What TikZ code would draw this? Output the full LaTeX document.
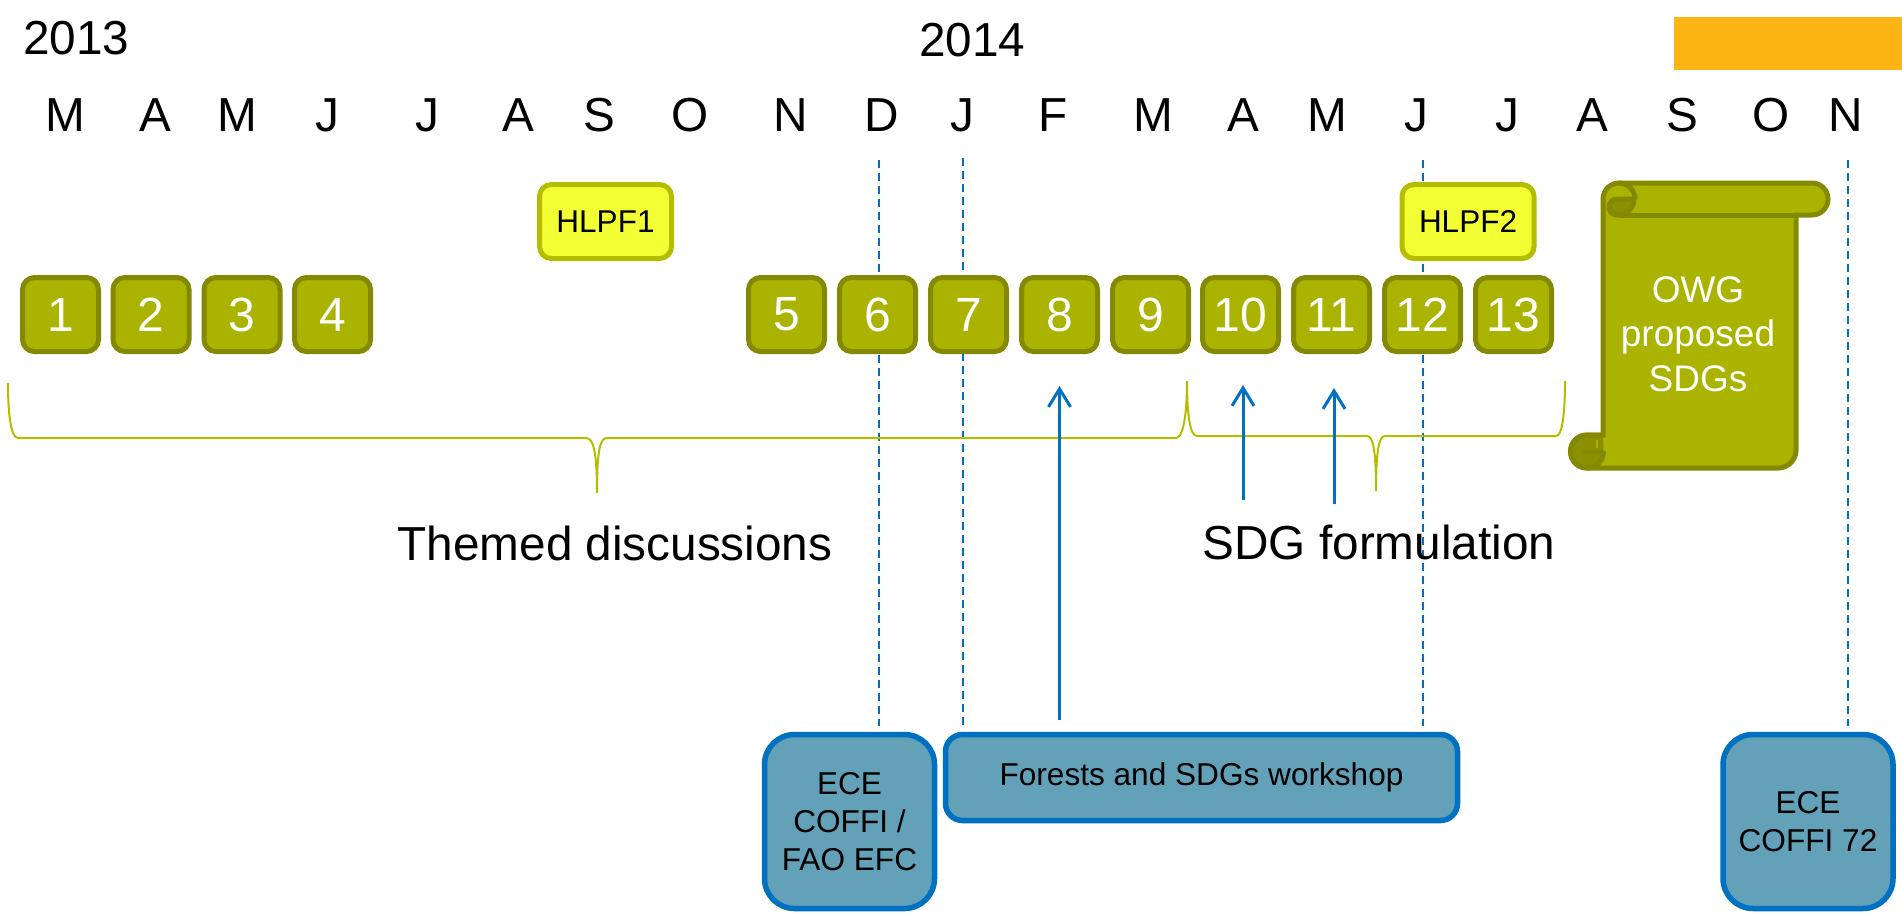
\documentclass[tikz,border=0pt]{standalone}
\usepackage{fontspec}
\setmainfont{Liberation Sans}
\usetikzlibrary{arrows.meta}

\definecolor{sessgreen}{HTML}{AAB400}
\definecolor{sessdark}{HTML}{838900}
\definecolor{curlfill}{HTML}{8A9000}
\definecolor{hlpfyellow}{HTML}{F2FF33}
\definecolor{hlpfline}{HTML}{B5BD00}
\definecolor{meetfill}{HTML}{62A1B8}
\definecolor{meetblue}{HTML}{0070C0}
\definecolor{barorange}{HTML}{FDB415}

\tikzset{
    bigtext/.style={font=\fontsize{47.7}{52}\selectfont, inner sep=0pt},
    session/.style={draw=sessdark, fill=sessgreen, line width=5pt, rounded corners=12pt, minimum width=76pt, minimum height=74pt, text=white, font=\fontsize{48}{52}\selectfont, inner sep=0pt},
    hlpf/.style={draw=hlpfline, fill=hlpfyellow, line width=5pt, rounded corners=12pt, minimum width=132pt, minimum height=74pt, font=\fontsize{31.5}{38}\selectfont, inner sep=0pt},
    meeting/.style={draw=meetblue, fill=meetfill, line width=5.5pt, align=center, font=\fontsize{31.6}{38}\selectfont, inner sep=0pt},
    brace/.style={draw=hlpfline, line width=2pt},
    datedash/.style={meetblue, line width=2pt, dash pattern=on 8pt off 5pt, shorten >=6pt},
    uparrow/.style={meetblue, line width=3pt, -{Straight Barb[length=18pt, width=22pt, line width=3pt]}}
}

\begin{document}
\begin{tikzpicture}[x=1pt, y=-1pt]
    \useasboundingbox (0,0) rectangle (1902,914);

    % Orange bar
    \fill[barorange] (1674,17) rectangle (1902,70);

    % Years
    \node[bigtext, anchor=base west] (year13) at (23,54) {2013};
    \node[bigtext, anchor=base west] (year14) at (919,56) {2014};

    % Months
    \foreach \m/\xpos [count=\i] in {M/65,A/155,M/237,J/327,J/427,A/518,S/599,O/690,N/791,D/882,J/962,F/1053,M/1153,A/1243,M/1327,J/1416,J/1507,A/1592,S/1682,O/1771,N/1846} {
        \node[bigtext, anchor=base] (month\i) at (\xpos,131) {\m};
    }

    % Meetings
    \node[meeting, rounded corners=30pt, minimum width=170pt, minimum height=174pt] (coffiefc) at (849.5,821.5) {ECE\\COFFI /\\FAO EFC};
    \node[meeting, rounded corners=17pt, minimum width=512pt, minimum height=86pt] (workshop) at (1201.5,777.5) {\raisebox{-2pt}{Forests and SDGs workshop}};
    \node[meeting, rounded corners=30pt, minimum width=170pt, minimum height=174pt] (coffi72) at (1808,821.5) {ECE\\COFFI 72};

    % Dates of the meetings, behind the sessions
    \coordinate (dashcoffi) at (879,160);
    \coordinate (dashstart) at (963,158);
    \coordinate (dashend) at (1423,160);
    \coordinate (dashlast) at (1848,160);
    \draw[datedash] (dashcoffi) -- (dashcoffi |- coffiefc.north);
    \draw[datedash] (dashstart) -- (dashstart |- workshop.north);
    \draw[datedash] (dashend) -- (dashend |- workshop.north);
    \draw[datedash] (dashlast) -- (dashlast |- coffi72.north);

    % Sessions
    \foreach \n/\xpos in {1/60.5,2/151,3/242,4/332.5,5/786.5,6/877.5,7/968.5,8/1059.5,9/1150.5,10/1240.5,11/1331.5,12/1422.5,13/1513.5} {
        \node[session] (sess\n) at (\xpos,314.5) {\n};
    }
    \node[hlpf] (hlpf1) at (605.5,221.5) {HLPF1};
    \node[hlpf] (hlpf2) at (1468,221.5) {HLPF2};

    % Braces
    \draw[brace] (8,383) .. controls (8,415) and (11,438) .. (18,438) -- (586,438)
        .. controls (593,438) and (597,450) .. (597,493)
        .. controls (597,450) and (600,438) .. (607,438) -- (1176,438)
        .. controls (1183,438) and (1187,415) .. (1187,381);
    \draw[brace] (1187,381) .. controls (1187,415) and (1190,436) .. (1197,436) -- (1367,436)
        .. controls (1373,436) and (1376,450) .. (1376,491)
        .. controls (1376,450) and (1379,436) .. (1385,436) -- (1556,436)
        .. controls (1562,436) and (1565,415) .. (1565,381);

    \node[bigtext, anchor=base] (themed) at (615,560) {Themed discussions};
    \node[bigtext, anchor=base] (formul) at (1379,559) {SDG formulation};

    % Workshop inputs
    \coordinate (from10) at (1243,500);
    \coordinate (from11) at (1334,504);
    \coordinate (to10) at (1243,385);
    \coordinate (to11) at (1334,388);
    \draw[uparrow, shorten <=12pt, shorten >=32pt] (workshop.north -| sess8) -- (sess8.south);
    \draw[uparrow] (from10) -- (to10);
    \draw[uparrow] (from11) -- (to11);

    % Scroll
    \draw[draw=sessdark, fill=sessgreen, line width=5pt]
        (1603,199) arc (-180:-90:16) -- (1812,183) arc (-90:90:16) -- (1796,215) -- (1796,450)
        arc (0:90:18) -- (1587,468) arc (90:270:16.5) -- (1603,435) -- cycle;
    \draw[draw=sessdark, line width=5pt] (1619,215) -- (1796,215);
    \draw[draw=sessdark, fill=curlfill, line width=5pt]
        (1634,199) arc (0:90:16) -- (1617,215) arc (90:270:8) -- cycle;
    \draw[draw=sessdark, line width=5pt] (1619,183) arc (-90:0:16);
    \fill[curlfill] (1603,435) -- (1587,435) arc (270:90:16.5) arc (90:0:16.5) -- cycle;
    \draw[draw=sessdark, line width=5pt] (1603,435) -- (1587,435) arc (270:90:16.5) arc (90:0:16.5);
    \draw[draw=sessdark, line width=4pt, line cap=round] (1603,452) -- (1585,452);
    \draw[draw=sessgreen, line width=2pt] (1597,440) -- (1597,448);
    \node[align=center, text=white, font=\fontsize{37}{44.5}\selectfont, inner sep=0pt] (owg) at (1698,334) {OWG\\proposed\\SDGs};
\end{tikzpicture}
\end{document}
